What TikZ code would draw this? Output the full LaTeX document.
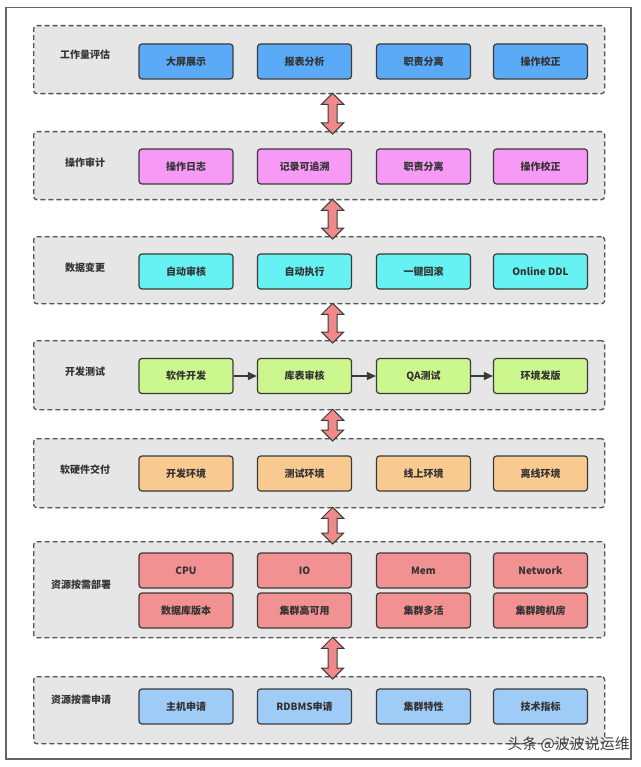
\documentclass[tikz,border=0pt]{standalone}
\usepackage{fontspec}
\newfontfamily\cjk{Noto Sans CJK SC}
\usetikzlibrary{arrows.meta,calc}
\definecolor{grpbg}{HTML}{E6E6E6}
\definecolor{grpline}{HTML}{555555}
\definecolor{bxline}{HTML}{3A3A3A}
\definecolor{cblue}{HTML}{5AAAF8}
\definecolor{cpink}{HTML}{F79AF5}
\definecolor{ccyan}{HTML}{66F2F2}
\definecolor{cgreen}{HTML}{CCF78E}
\definecolor{corange}{HTML}{F9CA8F}
\definecolor{cred}{HTML}{F29191}
\definecolor{clblue}{HTML}{9ECCF7}
\definecolor{arrfill}{HTML}{F08A8A}
\tikzset{
  grp/.style={draw=grpline, fill=grpbg, dashed, dash pattern=on 5pt off 3pt, line width=1.3pt, rounded corners=3pt, anchor=north west, minimum width=571pt, inner sep=0pt},
  glabel/.style={font=\cjk\bfseries\fontsize{10}{12}\selectfont, text=black!80},
  bx/.style={draw=bxline, line width=1.2pt, rounded corners=3pt, minimum width=94pt, minimum height=35pt, inner sep=0pt, font=\cjk\bfseries\fontsize{10}{12}\selectfont, text=black!80},
  fatarr/.style={draw=bxline, fill=arrfill, line width=1pt, line join=miter},
  chain/.style={draw=bxline, line width=1.5pt, -{Triangle[length=9pt,width=8pt]}}
}
\newcommand\fatarrow[2]{\path[fatarr] let \p1=([xshift=13.5pt,yshift=1pt]#1.south), \p2=([xshift=13.5pt,yshift=-3pt]#2.north) in
  (\x1,\y1) -- (\x1+11pt,\y1-11pt) -- (\x1+4.5pt,\y1-11pt) -- (\x1+4.5pt,\y2+11pt) -- (\x1+11pt,\y2+11pt) -- (\x1,\y2)
  -- (\x1-11pt,\y2+11pt) -- (\x1-4.5pt,\y2+11pt) -- (\x1-4.5pt,\y1-11pt) -- (\x1-11pt,\y1-11pt) -- cycle;}
\begin{document}
\begin{tikzpicture}[x=1pt,y=-1pt]
\useasboundingbox (0,0) rectangle (640,767);
\fill[white] (0,0) rectangle (640,767);
\node[draw=black!60, line width=1.5pt, minimum width=625pt, minimum height=751pt, anchor=north west, inner sep=0pt] (frame) at (5,7) {};

% groups
\node[grp, minimum height=68pt] (g1) at (33,25) {};
\node[grp, minimum height=68pt] (g2) at (33,131) {};
\node[grp, minimum height=67pt] (g3) at (33,236) {};
\node[grp, minimum height=69pt] (g4) at (33,340) {};
\node[grp, minimum height=69pt] (g5) at (33,438) {};
\node[grp, minimum height=96pt] (g6) at (33,541) {};
\node[grp, minimum height=67pt] (g7) at (33,676) {};

\node[glabel] (l1) at (85,55) {工作量评估};
\node[glabel] (l2) at (85,163) {操作审计};
\node[glabel] (l3) at (85,268) {数据变更};
\node[glabel] (l4) at (85,372) {开发测试};
\node[glabel] (l5) at (85,470) {软硬件交付};
\node[glabel] (l6) at (81,585) {资源按需部署};
\node[glabel] (l7) at (81,700) {资源按需申请};

% row 1
\node[bx, fill=cblue] (b11) at (186,61.5) {大屏展示};
\node[bx, fill=cblue] (b12) at (304.5,61.5) {报表分析};
\node[bx, fill=cblue] (b13) at (423.5,61.5) {职责分离};
\node[bx, fill=cblue] (b14) at (540.5,61.5) {操作校正};
% row 2
\node[bx, fill=cpink] (b21) at (186,166.5) {操作日志};
\node[bx, fill=cpink] (b22) at (304.5,166.5) {记录可追溯};
\node[bx, fill=cpink] (b23) at (423.5,166.5) {职责分离};
\node[bx, fill=cpink] (b24) at (540.5,166.5) {操作校正};
% row 3
\node[bx, fill=ccyan] (b31) at (186,271.5) {自动审核};
\node[bx, fill=ccyan] (b32) at (304.5,271.5) {自动执行};
\node[bx, fill=ccyan] (b33) at (423.5,271.5) {一键回滚};
\node[bx, fill=ccyan] (b34) at (540.5,271.5) {Online DDL};
% row 4
\node[bx, fill=cgreen] (b41) at (186,376) {软件开发};
\node[bx, fill=cgreen] (b42) at (304.5,376) {库表审核};
\node[bx, fill=cgreen] (b43) at (423.5,376) {QA测试};
\node[bx, fill=cgreen] (b44) at (540.5,376) {环境发版};
\draw[chain] (b41) -- (b42);
\draw[chain] (b42) -- (b43);
\draw[chain] (b43) -- (b44);
% row 5
\node[bx, fill=corange] (b51) at (186,473.5) {开发环境};
\node[bx, fill=corange] (b52) at (304.5,473.5) {测试环境};
\node[bx, fill=corange] (b53) at (423.5,473.5) {线上环境};
\node[bx, fill=corange] (b54) at (540.5,473.5) {离线环境};
% row 6
\node[bx, fill=cred] (b61) at (186,570.5) {CPU};
\node[bx, fill=cred] (b62) at (304.5,570.5) {IO};
\node[bx, fill=cred] (b63) at (423.5,570.5) {Mem};
\node[bx, fill=cred] (b64) at (540.5,570.5) {Network};
\node[bx, fill=cred] (b65) at (186,610.5) {数据库版本};
\node[bx, fill=cred] (b66) at (304.5,610.5) {集群高可用};
\node[bx, fill=cred] (b67) at (423.5,610.5) {集群多活};
\node[bx, fill=cred] (b68) at (540.5,610.5) {集群跨机房};
% row 7
\node[bx, fill=clblue] (b71) at (186,706.5) {主机申请};
\node[bx, fill=clblue] (b72) at (304.5,706.5) {RDBMS申请};
\node[bx, fill=clblue] (b73) at (423.5,706.5) {集群特性};
\node[bx, fill=clblue] (b74) at (540.5,706.5) {技术指标};

% fat arrows
\fatarrow{g1}{g2}
\fatarrow{g2}{g3}
\fatarrow{g3}{g4}
\fatarrow{g4}{g5}
\fatarrow{g5}{g6}
\fatarrow{g6}{g7}

\node[anchor=east, font=\cjk\fontsize{15}{17}\selectfont, text=black!75, inner sep=0pt] (wm) at (630,744) {头条 @波波说运维};
\end{tikzpicture}
\end{document}
